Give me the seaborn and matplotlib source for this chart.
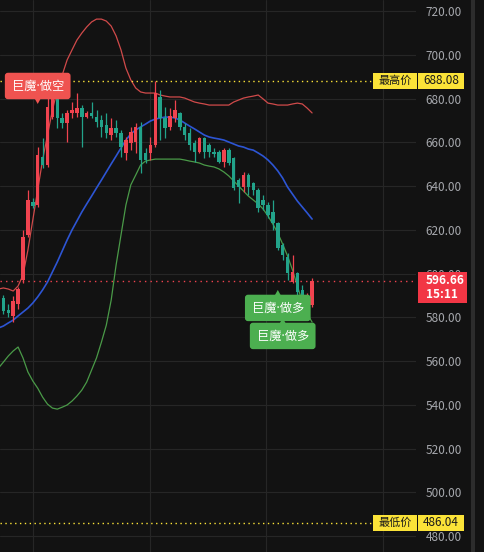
import numpy as np
import pandas as pd
import matplotlib
matplotlib.use('Agg')
import matplotlib.pyplot as plt
from matplotlib.patches import Rectangle, Polygon
import seaborn as sns

# candle data (one entry per bar)
OPEN = [580.0, 589.0, 583.5, 580.5, 586.0, 597.0, 617.6, 632.7, 631.3, 653.3,
        649.6, 671.5, 680.2, 671.1, 668.8, 673.4, 673.4, 675.6, 671.5, 673.4,
        671.5, 670.2, 667.9, 663.3, 666.5, 664.2, 655.1, 659.7, 660.1, 667.0,
        655.1, 655.1, 658.7, 680.7, 671.1, 667.0, 671.1, 673.4, 667.0, 664.2,
        659.7, 655.5, 661.9, 658.7, 655.5, 655.5, 651.0, 656.4, 652.8, 642.7,
        639.5, 645.0, 641.4, 638.2, 633.6, 631.3, 628.1, 623.1, 613.0, 607.5,
        596.1, 600.2, 592.5, 581.9, 585.6]
HIGH = [589.0, 590.0, 586.0, 589.5, 594.0, 619.9, 638.2, 634.5, 657.8, 661.9,
        680.2, 685.7, 683.0, 673.4, 674.7, 678.4, 682.5, 677.0, 674.3, 678.4,
        674.7, 672.5, 673.4, 671.1, 670.2, 665.6, 662.4, 667.0, 668.8, 669.3,
        657.4, 662.4, 688.08, 683.9, 676.1, 675.6, 679.3, 673.8, 668.8, 666.5,
        661.0, 662.4, 662.4, 659.7, 657.4, 656.4, 657.4, 657.4, 653.3, 643.7,
        646.4, 645.9, 641.8, 639.1, 635.9, 632.7, 633.6, 623.5, 613.9, 609.4,
        608.5, 600.7, 594.7, 591.1, 597.9]
LOW = [578.5, 581.5, 580.0, 578.0, 584.0, 595.6, 616.7, 629.9, 630.4, 648.2,
       648.7, 670.6, 666.5, 666.5, 660.1, 671.1, 671.5, 657.8, 671.1, 671.1,
       667.0, 662.4, 661.9, 661.0, 662.4, 653.3, 651.9, 656.4, 655.1, 645.9,
       650.5, 651.9, 657.8, 661.0, 661.9, 665.6, 669.3, 665.6, 661.0, 656.4,
       651.0, 655.0, 652.8, 653.3, 653.3, 650.5, 648.7, 649.6, 638.2, 632.2,
       637.3, 635.9, 635.9, 628.1, 629.0, 625.4, 619.9, 610.7, 606.2, 597.0,
       595.6, 589.3, 580.1, 580.5, 584.6]
CLOSE = [587.5, 583.0, 582.0, 587.5, 593.0, 616.7, 633.6, 630.9, 654.2, 649.6,
         676.1, 682.5, 671.1, 668.8, 673.4, 674.7, 675.6, 671.5, 673.4, 672.0,
         669.2, 667.0, 664.2, 666.5, 664.2, 657.8, 661.0, 664.7, 667.0, 651.9,
         651.9, 658.7, 682.5, 671.1, 666.5, 672.0, 674.7, 667.0, 663.3, 658.7,
         655.5, 661.9, 655.5, 655.5, 654.6, 651.0, 656.4, 650.5, 639.1, 639.5,
         645.0, 639.5, 638.2, 629.9, 631.3, 626.7, 623.1, 611.7, 608.5, 600.2,
         600.7, 591.5, 582.4, 586.5, 596.66]

# bollinger bands
UPPER = [592.9, 593.4, 592.9, 592.0, 594.3, 599.3, 610.7, 624.5, 638.2, 651.9,
         663.3, 674.7, 683.9, 690.7, 697.6, 702.2, 706.7, 709.9, 712.7, 715.0,
         716.3, 716.3, 715.4, 713.1, 708.6, 702.2, 693.9, 688.5, 684.8, 683.0,
         682.5, 682.5, 682.5, 681.6, 681.1, 680.7, 680.7, 680.7, 680.2, 679.3,
         678.4, 677.9, 677.5, 677.0, 677.0, 677.0, 677.0, 677.0, 678.4, 679.3,
         680.2, 680.7, 681.1, 681.6, 679.8, 677.9, 677.5, 677.0, 677.0, 677.0,
         677.5, 677.9, 677.5, 675.6, 673.4]
MIDDLE = [575.1, 576.0, 577.4, 578.7, 580.6, 582.4, 584.2, 586.5, 589.3, 592.5,
          596.1, 600.7, 605.3, 610.3, 615.3, 619.9, 624.0, 628.1, 631.8, 635.4,
          639.1, 642.7, 646.4, 650.1, 653.7, 657.4, 661.0, 663.8, 665.6, 667.0,
          668.3, 669.7, 670.6, 671.1, 671.5, 671.5, 671.1, 670.2, 668.8, 667.4,
          666.1, 664.7, 663.3, 662.4, 661.9, 661.5, 661.0, 660.1, 659.2, 658.3,
          657.8, 656.9, 656.4, 655.1, 653.7, 651.9, 649.6, 646.9, 643.6, 639.5,
          636.3, 633.1, 630.4, 627.7, 624.9]
LOWER = [556.8, 559.5, 562.3, 564.6, 566.4, 561.4, 555.0, 550.9, 547.6, 543.5,
         540.3, 538.5, 538.0, 538.9, 539.9, 541.7, 544.0, 546.7, 550.4, 555.9,
         561.4, 568.6, 576.4, 587.9, 603.9, 617.6, 631.3, 640.5, 645.0, 649.6,
         651.4, 651.9, 652.3, 652.3, 652.3, 652.3, 652.3, 652.3, 651.9, 651.4,
         651.0, 650.5, 649.6, 649.1, 648.7, 647.8, 646.4, 644.6, 642.3, 640.0,
         637.7, 635.4, 633.6, 631.8, 629.5, 626.3, 622.6, 618.5, 613.4, 608.0,
         601.6, 594.3, 587.0, 581.5, 577.8]

Y_TICKS = list(range(480, 721, 20))
HIGH_PRICE = 688.08
LOW_PRICE = 486.04
LAST_PRICE = 596.66
COUNTDOWN = '15:11'

SIGNAL_TEXT = ['巨魔·做空', '巨魔·做多', '巨魔·做多']
SIGNAL_IDX = [8, 57, 58]
SIGNAL_PRICE = [677.5, 592.5, 579.7]  # where the pointer touches
SIGNAL_SIDE = ['short', 'long', 'long']

# colours
BG = '#121212'
GRID = '#262626'
UP = '#f0434f'
DOWN = '#22a38a'
YELLOW = '#fbe338'

sns.set_theme(style='dark', rc={'axes.facecolor': BG, 'figure.facecolor': BG,
                                'grid.color': GRID, 'axes.edgecolor': BG})
plt.rcParams['font.family'] = ['Noto Sans CJK SC', 'DejaVu Sans']

W, H, AX_W = 484, 552, 416
fig = plt.figure(figsize=(W / 100, H / 100), dpi=100)
ax = fig.add_axes([0, 0, AX_W / W, 1])
ax.set_facecolor(BG)

idx = np.arange(len(OPEN))
bands = pd.DataFrame({'idx': idx, 'upper': UPPER, 'middle': MIDDLE, 'lower': LOWER})
sns.lineplot(data=bands, x='idx', y='upper', color='#d04a4a', lw=0.9, ax=ax)
sns.lineplot(data=bands, x='idx', y='middle', color='#2d55d4', lw=1.2, ax=ax)
sns.lineplot(data=bands, x='idx', y='lower', color='#4a9a48', lw=0.9, ax=ax)

o = np.array(OPEN); c = np.array(CLOSE)
cols = np.where(c >= o, UP, DOWN)
ax.vlines(idx, LOW, HIGH, colors=cols, lw=0.9, zorder=3)
ax.bar(idx, np.maximum(np.abs(c - o), 0.45), bottom=np.minimum(o, c),
       width=0.7, color=cols, lw=0, zorder=4)

ymin, ymax = 472.7, 725.03
ax.set_xlim(1.5 / 4.9, (AX_W + 1.5) / 4.9)
ax.set_ylim(ymin, ymax)
ppu = H / (ymax - ymin)  # pixels per price unit
xpu = 4.9                # pixels per bar

ax.set_xticks([7.04, 30.9, 54.6, 78.5])
ax.set_xticklabels([])
ax.set_yticks(Y_TICKS)
ax.set_yticklabels([f'{v:.2f}' for v in Y_TICKS])
ax.yaxis.tick_right()
ax.tick_params(axis='both', length=0)
ax.tick_params(axis='y', pad=7, labelsize=8.5, labelcolor='#a6a8ad')
ax.grid(True, color=GRID, lw=0.8)
ax.set_xlabel('')
ax.set_ylabel('')
for s in ax.spines.values():
    s.set_visible(False)

yt = ax.get_yaxis_transform()


def side_box(x0, x1, price, h_up, h_dn, color):
    ax.add_patch(Rectangle((x0 / AX_W, price - h_dn / ppu), (x1 - x0) / AX_W,
                           (h_up + h_dn) / ppu, transform=yt, fc=color, lw=0,
                           clip_on=False, zorder=8))


# highest / lowest price markers
for price, name in [(HIGH_PRICE, '最高价'), (LOW_PRICE, '最低价')]:
    ax.plot([0, 373 / AX_W], [price, price], transform=yt, color=YELLOW,
            ls=(0, (1, 2.5)), lw=1, zorder=2)
    side_box(373, 417, price, 8, 8, YELLOW)
    side_box(418, 464, price, 8, 8, YELLOW)
    ax.text(395 / AX_W, price, name, transform=yt, ha='center', va='center',
            fontsize=8, color='#1a1a1a', zorder=9, clip_on=False)
    ax.text(441 / AX_W, price, f'{price:.2f}', transform=yt, ha='center',
            va='center', fontsize=8.5, color='#1a1a1a', zorder=9, clip_on=False)

# last price marker
ax.plot([0, 418 / AX_W], [LAST_PRICE, LAST_PRICE], transform=yt, color=UP,
        ls=(0, (1, 3)), lw=1, zorder=2)
side_box(418, 467, LAST_PRICE, 9, 22, '#f23645')
ax.text(426 / AX_W, LAST_PRICE, f'{LAST_PRICE:.2f}', transform=yt, ha='left',
        va='center', fontsize=8.5, color='white', fontweight='bold', zorder=9, clip_on=False)
ax.text(426 / AX_W, LAST_PRICE - 14 / ppu, COUNTDOWN, transform=yt, ha='left',
        va='center', fontsize=8.5, color='white', fontweight='bold', zorder=9, clip_on=False)

# signal labels (latin font first so the middle dot stays narrow)
for text, i, price, side in zip(SIGNAL_TEXT, SIGNAL_IDX, SIGNAL_PRICE, SIGNAL_SIDE):
    color = '#ef5350' if side == 'short' else '#4caf50'
    sign = 1 if side == 'short' else -1
    cy = price + sign * 18 / ppu
    ax.text(i, cy, text, ha='center', va='center', fontsize=8.8, color='white',
            family=['Noto Sans', 'Noto Sans CJK SC'], zorder=11,
            bbox=dict(boxstyle='round,pad=0.55,rounding_size=0.25', fc=color, ec='none'))
    base = price + sign * 9 / ppu
    ax.add_patch(Polygon([(i - 5 / xpu, base), (i + 5 / xpu, base), (i, price)],
                         closed=True, fc=color, lw=0, zorder=10))

# scroll strip on the far right
fig.add_artist(Rectangle((471 / W, 0), 4 / W, 1, transform=fig.transFigure,
                         fc='#2c2c2c', lw=0))

fig.savefig('out.png', dpi=100, facecolor=BG)
